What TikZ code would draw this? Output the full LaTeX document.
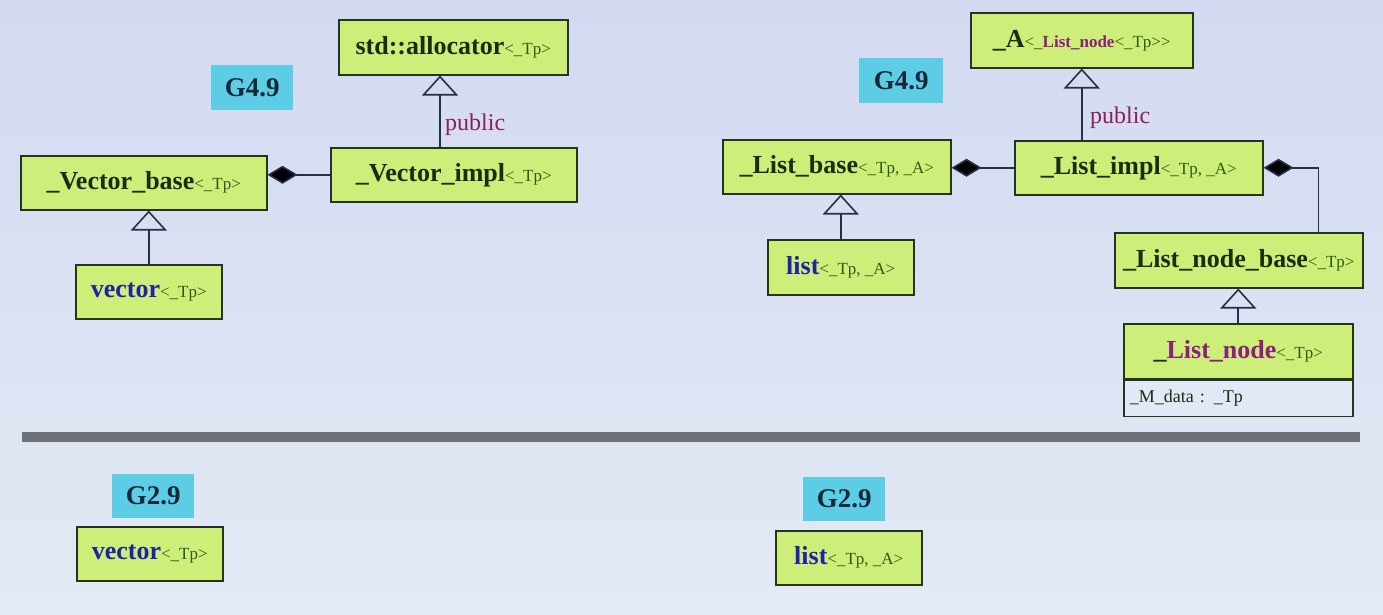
\documentclass[tikz,border=0pt]{standalone}
\usepackage{fontspec}
\setmainfont{Liberation Serif}
\usetikzlibrary{arrows.meta}
\definecolor{bgtop}{HTML}{D3D9F1}
\definecolor{bgbot}{HTML}{E3EAF4}
\definecolor{boxfill}{HTML}{CDEE78}
\definecolor{attrfill}{HTML}{E2E8F5}
\definecolor{boxline}{HTML}{25331F}
\definecolor{tagfill}{HTML}{5CCDE5}
\definecolor{nametext}{HTML}{1C2C12}
\definecolor{tagtext}{HTML}{18283A}
\definecolor{argtext}{HTML}{2E5A14}
\definecolor{bluetext}{HTML}{1E22A8}
\definecolor{purpletext}{HTML}{8A1F7E}
\definecolor{pubtext}{HTML}{8A1F5E}
\definecolor{linecol}{HTML}{243048}
\definecolor{sepcol}{HTML}{6C7278}
\newcommand\clsname[1]{{\fontsize{26}{28}\selectfont\bfseries\color{nametext}#1}}
\newcommand\clsblue[1]{{\fontsize{26}{28}\selectfont\bfseries\color{bluetext}#1}}
\newcommand\clspurple[1]{{\fontsize{26}{28}\selectfont\bfseries\color{purpletext}#1}}
\newcommand\clsarg[1]{{\fontsize{17}{20}\selectfont\color{argtext}#1}}
\begin{document}
\begin{tikzpicture}[x=1pt,y=-1pt,
  cls/.style={draw=boxline, line width=1.5pt, fill=boxfill, anchor=north west, inner sep=0pt, align=center},
  attr/.style={draw=boxline, line width=1.5pt, fill=attrfill, anchor=north west, inner sep=0pt},
  tag/.style={fill=tagfill, anchor=north west, inner sep=0pt, font=\fontsize{27}{30}\selectfont\bfseries, text=tagtext},
  conn/.style={draw=linecol, line width=1.6pt},
  inh/.style={conn, -{Triangle[open, length=20pt, width=36pt, line width=1.6pt]}},
  comp/.style={conn, -{Diamond[length=30pt, width=18pt, fill=black]}},
  lbl/.style={anchor=west, inner sep=0pt, font=\fontsize{24}{26}\selectfont, text=pubtext}]
\useasboundingbox (0,0) rectangle (1383,614);
\shade[top color=bgtop, bottom color=bgbot] (0,0) rectangle (1383,614);

% ---------- G4.9 vector ----------
\node[tag, minimum width=82pt, minimum height=45pt] (tagvl) at (211,65) {G4.9};
\node[cls, minimum width=229pt, minimum height=55pt] (alloc) at (338,19) {\clsname{std::allocator}\clsarg{<\_Tp>}};
\node[cls, minimum width=246pt, minimum height=54pt] (vb) at (20,155) {\clsname{\_Vector\_base}\clsarg{<\_Tp>}};
\node[cls, minimum width=246pt, minimum height=54pt] (vi) at (330,147) {\clsname{\_Vector\_impl}\clsarg{<\_Tp>}};
\node[cls, minimum width=146pt, minimum height=54pt] (vec) at (75,264) {\clsblue{vector}\clsarg{<\_Tp>}};

\coordinate (vitop) at ([xshift=110pt]vi.north west);
\draw[inh] (vitop) -- (vitop |- alloc.south);
\node[lbl] (pubv) at (445,125) {public};
\draw[comp] (vi.west) -- (vi.west -| vb.east);
\draw[inh] (vec.north) -- (vec.north |- vb.south);

% ---------- G4.9 list ----------
\node[tag, minimum width=84pt, minimum height=45pt] (tagll) at (859,58) {G4.9};
\node[cls, minimum width=222pt, minimum height=55pt] (A) at (970,12) {\clsname{\_A}\clsarg{<\_}{\fontsize{17}{20}\selectfont\bfseries\color{purpletext}List\_node}\clsarg{<\_Tp>{}>}};
\node[cls, minimum width=228pt, minimum height=54pt] (lb) at (722,139) {\clsname{\_List\_base}\clsarg{<\_Tp, \_A>}};
\node[cls, minimum width=248pt, minimum height=54pt] (li) at (1014,140) {\clsname{\_List\_impl}\clsarg{<\_Tp, \_A>}};
\node[cls, minimum width=146pt, minimum height=55pt] (lst) at (767,239) {\clsblue{list}\clsarg{<\_Tp, \_A>}};
\node[cls, minimum width=248pt, minimum height=55pt] (lnb) at (1114,232) {\clsname{\_List\_node\_base}\clsarg{<\_Tp>}};
\node[cls, minimum width=229pt, minimum height=55pt] (ln) at (1123,323) {\clsname{\_}\clspurple{List\_node}\clsarg{<\_Tp>}};
\node[attr, minimum width=229pt, minimum height=36pt, text width=217pt, align=left, inner xsep=6pt, font=\fontsize{18}{20}\selectfont, text=nametext] (lnattr) at (ln.south west) {\_M\_data : \_Tp};

\coordinate (litop) at (A.south |- li.north);
\draw[inh] (litop) -- (A.south);
\node[lbl] (publ) at (1090,118) {public};
\draw[comp] (li.west) -- (li.west -| lb.east);
\draw[inh] (lst.north) -- (lst.north |- lb.south);
\coordinate (lnbtop) at ([xshift=-45pt]lnb.north east);
\draw[comp] (lnbtop) -- (lnbtop |- li.east) -- (li.east);
\draw[inh] (ln.north) -- (ln.north |- lnb.south);

% ---------- separator ----------
\fill[sepcol] (22,432) rectangle (1360,442);

% ---------- G2.9 ----------
\node[tag, minimum width=82pt, minimum height=44pt] (tagvo) at (112,474) {G2.9};
\node[cls, minimum width=146pt, minimum height=54pt] (vec2) at (76,526) {\clsblue{vector}\clsarg{<\_Tp>}};
\node[tag, minimum width=82pt, minimum height=44pt] (taglo) at (803,477) {G2.9};
\node[cls, minimum width=146pt, minimum height=54pt] (lst2) at (775,530) {\clsblue{list}\clsarg{<\_Tp, \_A>}};
\end{tikzpicture}
\end{document}
